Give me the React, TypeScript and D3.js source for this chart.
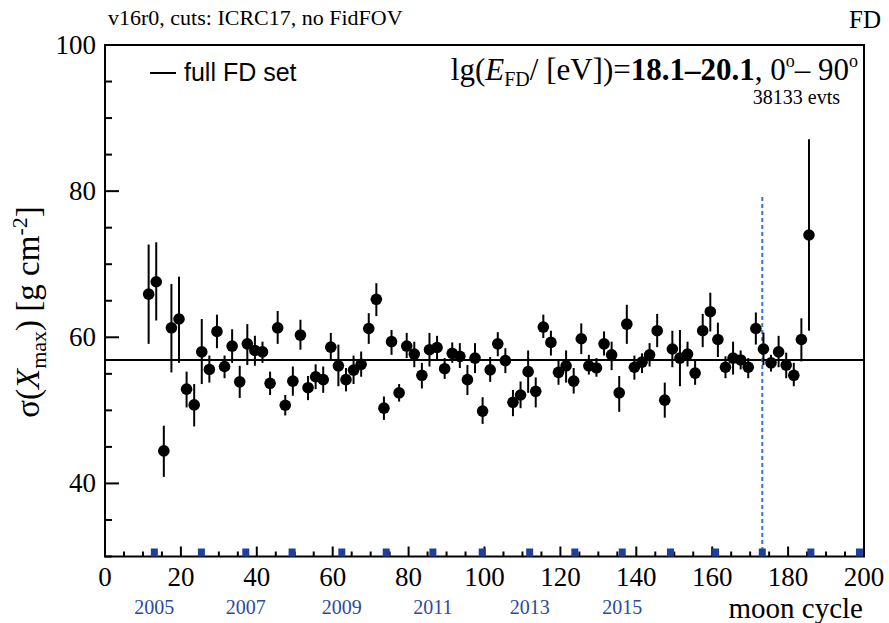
import React from "react";
import * as d3 from "d3";

const moonCycle = [
  11.5, 13.5, 15.5, 17.5, 19.5, 21.5, 23.5, 25.5, 27.5, 29.5, 31.5, 33.5, 35.5, 37.5, 39.5, 41.5, 43.5, 45.5, 47.5,
  49.5, 51.5, 53.5, 55.5, 57.5, 59.5, 61.5, 63.5, 65.5, 67.5, 69.5, 71.5, 73.5, 75.5, 77.5, 79.5, 81.5, 83.5, 85.5,
  87.5, 89.5, 91.5, 93.5, 95.5, 97.5, 99.5, 101.5, 103.5, 105.5, 107.5, 109.5, 111.5, 113.5, 115.5, 117.5, 119.5, 121.5, 123.5,
  125.5, 127.5, 129.5, 131.5, 133.5, 135.5, 137.5, 139.5, 141.5, 143.5, 145.5, 147.5, 149.5, 151.5, 153.5, 155.5, 157.5, 159.5, 161.5,
  163.5, 165.5, 167.5, 169.5, 171.5, 173.5, 175.5, 177.5, 179.5, 181.5, 183.5, 185.5,
];
const sigmaXmax = [
  65.9, 67.6, 44.45, 61.3, 62.5, 52.9, 50.75, 58.0, 55.6, 60.8, 56.0, 58.8, 53.9, 59.1, 58.2, 58.0, 53.7, 61.3, 50.7,
  54.0, 60.3, 53.1, 54.6, 54.2, 58.65, 56.1, 54.2, 55.5, 56.3, 61.2, 65.2, 50.3, 59.4, 52.4, 58.8, 57.7, 54.8, 58.3,
  58.6, 55.7, 57.8, 57.4, 54.2, 57.15, 49.9, 55.55, 59.1, 56.8, 51.1, 52.1, 55.3, 52.6, 61.4, 59.3, 55.2, 56.1, 54.0,
  59.8, 56.1, 55.8, 59.1, 57.6, 52.4, 61.8, 55.9, 56.6, 57.6, 60.9, 51.4, 58.4, 57.15, 57.7, 55.1, 60.9, 63.5, 59.7,
  55.9, 57.15, 56.9, 55.9, 61.2, 58.4, 56.5, 58.0, 56.2, 54.8, 59.7, 74.0,
];
const errHigh = [
  72.7, 73.0, 47.9, 67.3, 68.3, 55.3, 53.6, 62.5, 57.5, 63.1, 57.5, 61.1, 56.1, 61.8, 60.2, 59.4, 55.3, 63.6, 52.1,
  56.0, 62.4, 54.7, 56.3, 56.0, 60.6, 59.0, 55.8, 57.5, 58.05, 63.3, 67.4, 51.9, 61.0, 53.6, 60.6, 59.4, 56.5, 60.6,
  60.2, 57.15, 59.3, 59.2, 56.2, 59.2, 51.8, 57.3, 60.7, 58.5, 52.8, 53.95, 58.2, 54.5, 63.1, 60.9, 56.8, 58.2, 55.8,
  61.9, 57.6, 57.15, 60.8, 59.4, 54.7, 64.45, 57.5, 57.8, 59.2, 63.2, 53.8, 60.9, 61.0, 59.4, 57.0, 63.2, 66.1, 62.0,
  57.4, 59.4, 58.2, 57.15, 63.4, 60.65, 57.6, 60.2, 57.9, 56.5, 62.6, 87.1,
];
const errLow = [
  59.1, 62.3, 40.9, 55.2, 56.5, 50.4, 47.8, 53.6, 53.8, 58.5, 54.4, 56.5, 51.7, 56.2, 56.1, 56.5, 52.1, 59.1, 49.3,
  52.0, 58.3, 51.4, 52.9, 52.4, 57.0, 53.3, 52.6, 53.6, 54.6, 59.1, 62.9, 48.7, 57.6, 51.2, 57.15, 55.9, 53.0, 56.0,
  56.9, 54.3, 56.5, 55.8, 52.1, 55.1, 48.15, 53.9, 57.4, 55.1, 49.2, 50.3, 52.4, 50.4, 59.9, 57.5, 53.5, 53.8, 52.3,
  57.7, 54.9, 54.6, 57.5, 55.5, 49.8, 59.1, 54.2, 55.1, 56.0, 58.65, 49.0, 55.9, 53.3, 56.0, 53.5, 58.65, 60.8, 57.3,
  54.4, 54.9, 55.6, 54.4, 59.0, 56.2, 55.3, 55.9, 54.4, 53.3, 56.7, 60.9,
];
const meanSigma = 56.9;
const yearStarts = [13.0, 25.4, 37.1, 49.3, 62.4, 74.1, 86.4, 99.4, 111.9, 123.8, 136.3, 149.0, 160.9, 173.2, 186.0, 198.8];
const yearLabels = ["2005", "", "2007", "", "2009", "", "2011", "", "2013", "", "2015", "", "", "", "", ""];
const markerCycle = 173.2;
const markerTop = 79.2;
const xMajorTicks = [0, 20, 40, 60, 80, 100, 120, 140, 160, 180, 200];
const yMajorTicks = [40, 60, 80, 100];

const L = 105, R = 864, T = 45, B = 556.5;
const SERIF = "'Liberation Serif', 'Times New Roman', serif";
const SANS = "'Liberation Sans', Arial, sans-serif";

export default function App() {
  const x = d3.scaleLinear().domain([0, 200]).range([L, R]);
  const y = d3.scaleLinear().domain([30, 100]).range([B, T]);
  const xMinor = d3.range(0, 201, 5).filter((v) => v % 20 !== 0);
  const yMinor = d3.range(30, 101, 5).filter((v) => v % 20 !== 0);
  const blue = "#1f3f9c";

  return (
    <svg width={889} height={623} style={{ position: "absolute", left: 0, top: 0, background: "#fff" }}>
      <rect x={0} y={0} width={889} height={623} fill="#fff" />
      {/* header */}
      <text x={108} y={25} fontFamily={SERIF} fontSize={22} fill="#000">v16r0, cuts: ICRC17, no FidFOV</text>
      <text x={881} y={28} fontFamily={SERIF} fontSize={25} textAnchor="end" fill="#000">FD</text>

      {/* mean line */}
      <line x1={L} x2={R} y1={y(meanSigma)} y2={y(meanSigma)} stroke="#000" strokeWidth={2} />

      {/* blue dashed marker */}
      <line x1={x(markerCycle)} x2={x(markerCycle)} y1={y(markerTop)} y2={B} stroke="#3b73d6" strokeWidth={2} strokeDasharray="4,3" />

      {/* data */}
      {moonCycle.map((m, i) => (
        <g key={i}>
          <line x1={x(m)} x2={x(m)} y1={y(errHigh[i])} y2={y(errLow[i])} stroke="#000" strokeWidth={2} />
          <circle cx={x(m)} cy={y(sigmaXmax[i])} r={5.8} fill="#000" />
        </g>
      ))}

      {/* frame */}
      <rect x={L} y={T} width={R - L} height={B - T} fill="none" stroke="#000" strokeWidth={2} />

      {/* x ticks */}
      {xMajorTicks.map((v) => (
        <g key={"xm" + v}>
          <line x1={x(v)} x2={x(v)} y1={B} y2={B - 10} stroke="#000" strokeWidth={2} />
          <text x={x(v)} y={586} fontFamily={SERIF} fontSize={27} textAnchor="middle" fill="#000">{v}</text>
        </g>
      ))}
      {xMinor.map((v) => (
        <line key={"xn" + v} x1={x(v)} x2={x(v)} y1={B} y2={B - 5} stroke="#000" strokeWidth={2} />
      ))}
      {/* year squares */}
      {yearStarts.map((v, i) => (
        <g key={"yr" + i}>
          <rect x={x(v) - 3.5} y={B - 8} width={7} height={8} fill={blue} />
          {yearLabels[i] && (
            <text x={x(v)} y={614} fontFamily={SERIF} fontSize={20} textAnchor="middle" fill="#2a4a9c">{yearLabels[i]}</text>
          )}
        </g>
      ))}

      {/* y ticks */}
      {yMajorTicks.map((v) => (
        <g key={"ym" + v}>
          <line x1={L} x2={L + 14} y1={y(v)} y2={y(v)} stroke="#000" strokeWidth={2} />
          <text x={96} y={y(v) + 9} fontFamily={SERIF} fontSize={27} textAnchor="end" fill="#000">{v}</text>
        </g>
      ))}
      {yMinor.map((v) => (
        <line key={"yn" + v} x1={L} x2={L + 7} y1={y(v)} y2={y(v)} stroke="#000" strokeWidth={2} />
      ))}

      {/* axis titles */}
      <text x={863} y={618} fontFamily={SERIF} fontSize={29} textAnchor="end" fill="#000">moon cycle</text>
      <text transform={`translate(39,${312}) rotate(-90)`} fontFamily={SERIF} fontSize={33} textAnchor="middle" fill="#000">
        σ(<tspan fontStyle="italic">X</tspan>
        <tspan fontSize={22} dy={7}>max</tspan>
        <tspan dy={-7}>) [g cm</tspan>
        <tspan fontSize={22} dy={-12}>-2</tspan>
        <tspan dy={12}>]</tspan>
      </text>

      {/* legend */}
      <line x1={150} x2={176} y1={73} y2={73} stroke="#000" strokeWidth={2} />
      <text x={184} y={81} fontFamily={SANS} fontSize={25} fill="#000">full FD set</text>

      {/* energy label */}
      <text x={858} y={80} fontFamily={SERIF} fontSize={31} textAnchor="end" fill="#000">
        lg(<tspan fontStyle="italic">E</tspan>
        <tspan fontSize={20} dy={6}>FD</tspan>
        <tspan dy={-6}>/ [eV])=</tspan>
        <tspan fontWeight="bold">18.1–20.1</tspan>
        <tspan>, 0</tspan>
        <tspan fontSize={18} dy={-13}>o</tspan>
        <tspan dy={13}>– 90</tspan>
        <tspan fontSize={18} dy={-13}>o</tspan>
      </text>
      <text x={840} y={104} fontFamily={SERIF} fontSize={20} textAnchor="end" fill="#000">38133 evts</text>
    </svg>
  );
}
